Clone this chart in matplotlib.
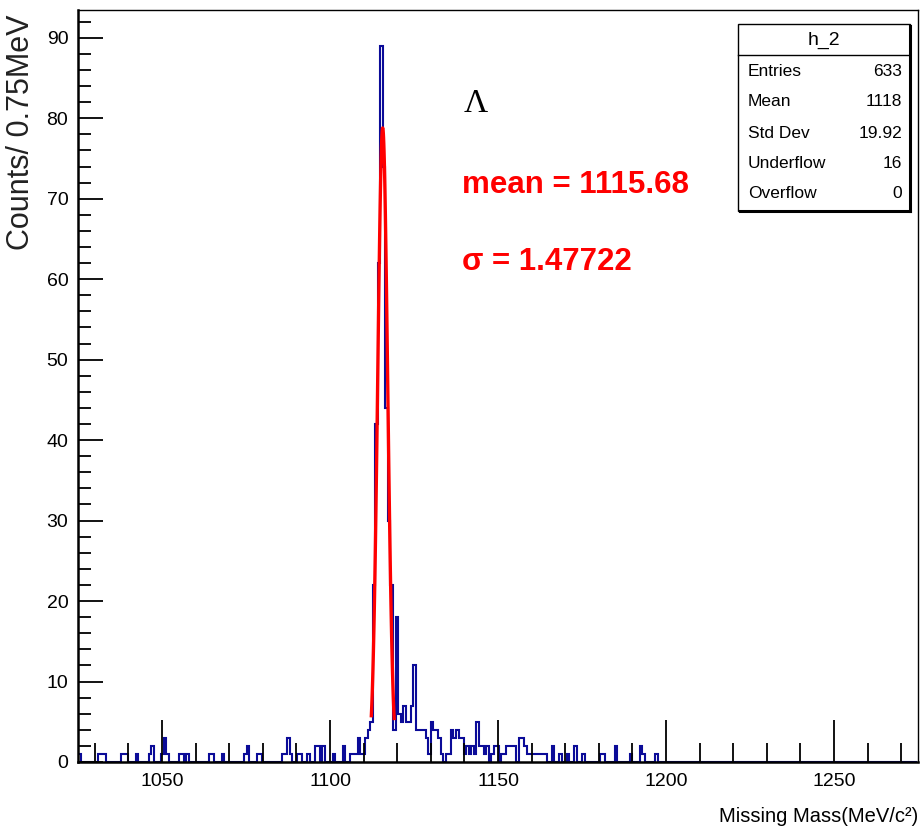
import numpy as np
import matplotlib
matplotlib.use("Agg")
import matplotlib.pyplot as plt
from matplotlib.ticker import MultipleLocator
from matplotlib.patches import Rectangle
from matplotlib.lines import Line2D

# ---------------- data ----------------
hist_min = 1025.0
hist_max = 1275.0
bin_width = 0.75
n_bins = 333

bin_index = [0, 8, 9, 10, 17, 18, 19, 23, 28, 29, 33, 34, 35, 40, 41, 43, 52, 53, 57,
             66, 67, 71, 72, 81, 82, 83, 84, 87, 88, 91, 94, 95, 97, 101, 105,
             108, 109, 110, 111, 112, 113, 114, 115, 116,
             117, 118, 119, 120, 121, 122, 123, 124, 125, 126,
             127, 128, 129, 130, 131, 132, 133, 134, 135, 136, 137,
             138, 139, 140, 141, 142, 143, 144, 146, 147, 148, 149, 150, 151, 152,
             153, 154, 155, 156, 157, 158, 159, 160, 161, 162, 164, 165, 166,
             168, 169, 170, 171, 172, 173, 175, 176, 177, 178, 179, 180, 181, 182,
             183, 184, 185, 188, 191, 194, 197, 200, 207, 208, 213, 219, 223, 224, 229]
bin_count = [1, 1, 1, 1, 1, 1, 1, 1, 1, 2, 1, 3, 1, 1, 1, 1, 1, 1, 1,
             1, 2, 1, 1, 1, 1, 3, 1, 1, 1, 1, 2, 2, 2, 1, 2,
             1, 1, 1, 3, 1, 1, 3, 4, 5,
             22, 42, 62, 89, 74, 44, 30, 22, 4, 18,
             6, 5, 7, 5, 5, 7, 12, 4, 4, 4, 4,
             3, 1, 5, 4, 4, 3, 1, 1, 1, 4, 3, 4, 3, 3,
             1, 2, 1, 2, 1, 5, 2, 2, 1, 2, 1, 2, 2,
             1, 1, 2, 2, 2, 2, 3, 3, 2, 1, 1, 1, 1, 1,
             1, 1, 1, 2, 1, 1, 2, 1, 1, 1, 2, 1, 2, 1, 1]

fit_mean = 1115.68
fit_sigma = 1.47722
fit_amp = 78.8
fit_lo, fit_hi = 1112.3, 1119.1

hist_name = "h_2"
stats_labels = ["Entries", "Mean", "Std Dev", "Underflow", "Overflow"]
stats_values = ["633", "1118", "19.92", "16", "0"]

x_major = [1050, 1100, 1150, 1200, 1250]
y_max = 93.45

# ---------------- figure ----------------
W, H = 922, 832
SANS = ["Liberation Sans", "DejaVu Sans"]
plt.rcParams["font.family"] = SANS

fig = plt.figure(figsize=(W / 100, H / 100), dpi=100)

def fx(x):
    return x / W

def fy(y):
    return 1 - y / H

ax = fig.add_axes([fx(78), fy(762), (918 - 78) / W, (762 - 10) / H])

counts = np.zeros(n_bins)
counts[bin_index] = bin_count
edges = hist_min + bin_width * np.arange(n_bins + 1)
ax.stairs(counts, edges, color="#0b0b98", lw=1.5, baseline=0)

xs = np.linspace(fit_lo, fit_hi, 100)
ys = fit_amp * np.exp(-0.5 * ((xs - fit_mean) / fit_sigma) ** 2)
ax.plot(xs, ys, color="red", lw=2.4)

ax.set_xlim(hist_min, hist_max)
ax.set_ylim(0, y_max)

ax.set_xticks(x_major)
ax.xaxis.set_minor_locator(MultipleLocator(10))
ax.yaxis.set_major_locator(MultipleLocator(10))
ax.yaxis.set_minor_locator(MultipleLocator(2))

ax.tick_params(axis="x", which="major", direction="in", length=30, width=1.3,
               labelsize=14, pad=8, top=False)
ax.tick_params(axis="x", which="minor", direction="in", length=14, width=1.3, top=False)
ax.tick_params(axis="y", which="major", direction="in", length=18, width=1.3,
               labelsize=14, pad=7, right=False)
ax.tick_params(axis="y", which="minor", direction="in", length=9, width=1.3, right=False)

for s in ["left", "bottom"]:
    ax.spines[s].set_linewidth(1.8)
for s in ["top", "right"]:
    ax.spines[s].set_linewidth(1.0)

# axis titles
fig.text(fx(918), fy(816), "Missing Mass(MeV/c²)", ha="right", va="center", fontsize=14.5)
fig.text(fx(21), fy(14), "Counts/ 0.75MeV", rotation=90, ha="center", va="top",
         fontsize=22, color="#222222")

# annotations
fig.text(fx(464), fy(104), "Λ", ha="left", va="center", fontsize=24,
         family=["Liberation Serif", "DejaVu Serif"], color="black")
fig.text(fx(462), fy(185), "mean = 1115.68", ha="left", va="center", fontsize=22.5,
         fontweight="bold", color="red")
fig.text(fx(462), fy(262), "σ = 1.47722", ha="left", va="center", fontsize=22.5,
         fontweight="bold", color="red")

# stats box
bx0, by0, bx1, by1 = 738, 24, 910, 211
fig.add_artist(Rectangle((fx(bx0), fy(by1)), (bx1 - bx0) / W, (by1 - by0) / H,
                         transform=fig.transFigure, facecolor="white",
                         edgecolor="black", lw=1.0, zorder=5))
fig.add_artist(Line2D([fx(bx1), fx(bx1)], [fy(by0 + 2), fy(by1)], transform=fig.transFigure,
                      color="black", lw=2.2, zorder=6))
fig.add_artist(Line2D([fx(bx0 + 2), fx(bx1)], [fy(by1), fy(by1)], transform=fig.transFigure,
                      color="black", lw=2.2, zorder=6))
fig.add_artist(Line2D([fx(bx0), fx(bx1)], [fy(54.5), fy(54.5)], transform=fig.transFigure,
                      color="black", lw=1.0, zorder=6))
fig.text(fx((bx0 + bx1) / 2), fy(40), hist_name, ha="center", va="center",
         fontsize=14, zorder=7)
row_y = [72, 102, 133, 163, 193]
for lab, val, yy in zip(stats_labels, stats_values, row_y):
    fig.text(fx(748), fy(yy), lab, ha="left", va="center", fontsize=12.5, zorder=7)
    fig.text(fx(902), fy(yy), val, ha="right", va="center", fontsize=12.5, zorder=7)

fig.savefig("out.png", dpi=100)
